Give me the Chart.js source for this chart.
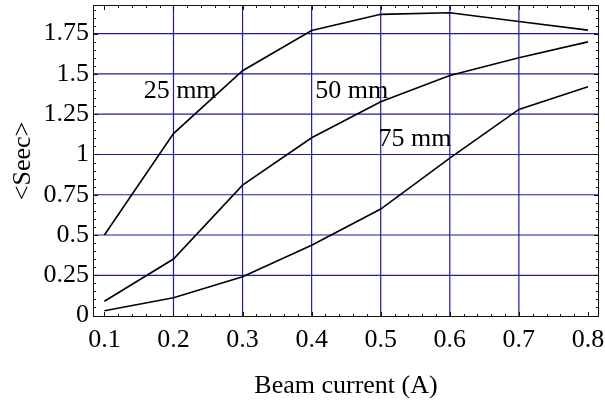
<!DOCTYPE html>
<html>
<head>
<meta charset="utf-8">
<script src="https://cdn.jsdelivr.net/npm/chart.js@4/dist/chart.umd.min.js"></script>
<style>
  html, body { margin: 0; padding: 0; background: #fff; }
  #wrap { width: 605px; height: 400px; }
</style>
</head>
<body>
<div id="wrap"><canvas id="c" width="605" height="400"></canvas></div>
<script>
// ---- data ----
const currents = [0.1, 0.2, 0.3, 0.4, 0.5, 0.6, 0.7, 0.8];
const sec25 = [0.50, 1.13, 1.52, 1.77, 1.87, 1.88, 1.826, 1.772];
const sec50 = [0.089, 0.351, 0.81, 1.104, 1.327, 1.491, 1.60, 1.699];
const sec75 = [0.030, 0.111, 0.241, 0.436, 0.661, 0.977, 1.280, 1.420];
const xTicks = [0.1, 0.2, 0.3, 0.4, 0.5, 0.6, 0.7, 0.8];
const yTicks = [0, 0.25, 0.5, 0.75, 1, 1.25, 1.5, 1.75];
const xGrid = [0.2, 0.3, 0.4, 0.5, 0.6, 0.7];
const yGrid = [0.25, 0.5, 0.75, 1, 1.25, 1.5, 1.75];
const labelText = ['25 mm', '50 mm', '75 mm'];
const labelX = [0.2096, 0.458, 0.5496];
const labelY = [1.393, 1.393, 1.096];

const SERIF = '"Liberation Serif", "Times New Roman", serif';
const GRID = 'rgb(30,30,160)';
const FRAME = '#111';

const gridPlugin = {
  id: 'gridLines',
  beforeDatasetsDraw(chart) {
    const {ctx, chartArea: a, scales: {x, y}} = chart;
    ctx.save();
    ctx.strokeStyle = GRID;
    ctx.lineWidth = 1.2;
    ctx.beginPath();
    xGrid.forEach((v) => {
      const px = x.getPixelForValue(v);
      ctx.moveTo(px, a.top); ctx.lineTo(px, a.bottom);
    });
    yGrid.forEach((v) => {
      const py = y.getPixelForValue(v);
      ctx.moveTo(a.left, py); ctx.lineTo(a.right, py);
    });
    ctx.stroke();
    ctx.restore();
  }
};

const framePlugin = {
  id: 'frame',
  afterDatasetsDraw(chart) {
    const {ctx, chartArea: a, scales: {x, y}} = chart;
    ctx.save();
    ctx.strokeStyle = FRAME;
    ctx.lineWidth = 1;
    ctx.strokeRect(Math.round(a.left) + 0.5, Math.round(a.top) + 0.5,
                   Math.round(a.right - a.left) - 1, Math.round(a.bottom - a.top) - 1);
    ctx.beginPath();
    for (let i = 0; i <= 40; i++) {
      const v = Math.round((0.08 + i * 0.02) * 1000) / 1000;
      if (v < x.min || v > x.max) continue;
      const major = Math.abs(v * 10 - Math.round(v * 10)) < 1e-6;
      const len = major ? 5 : 3;
      const px = Math.round(x.getPixelForValue(v)) + 0.5;
      ctx.moveTo(px, a.top); ctx.lineTo(px, a.top + len);
      ctx.moveTo(px, a.bottom); ctx.lineTo(px, a.bottom - len);
    }
    for (let i = 0; i <= 40; i++) {
      const v = Math.round(i * 0.05 * 1000) / 1000;
      if (v < y.min || v > y.max) continue;
      const major = Math.abs(v * 4 - Math.round(v * 4)) < 1e-6;
      const len = major ? 5 : 3;
      const py = Math.round(y.getPixelForValue(v)) + 0.5;
      ctx.moveTo(a.left, py); ctx.lineTo(a.left + len, py);
      ctx.moveTo(a.right, py); ctx.lineTo(a.right - len, py);
    }
    ctx.stroke();
    ctx.fillStyle = '#000';
    ctx.font = '26px ' + SERIF;
    ctx.textAlign = 'center';
    ctx.textBaseline = 'middle';
    for (let i = 0; i < labelText.length; i++) {
      ctx.fillText(labelText[i], x.getPixelForValue(labelX[i]), y.getPixelForValue(labelY[i]));
    }
    ctx.restore();
  }
};

const mk = (d) => ({
  data: d.map((v, i) => ({x: currents[i], y: v})),
  borderColor: '#000',
  borderWidth: 1.6,
  pointRadius: 0,
  fill: false,
  tension: 0
});

new Chart(document.getElementById('c'), {
  type: 'line',
  data: { datasets: [mk(sec25), mk(sec50), mk(sec75)] },
  options: {
    responsive: false,
    animation: false,
    devicePixelRatio: 1,
    layout: { padding: { top: 5, right: 6, left: 0, bottom: 0 } },
    plugins: { legend: { display: false }, tooltip: { enabled: false } },
    scales: {
      x: {
        type: 'linear',
        min: 0.0835,
        max: 0.816,
        afterBuildTicks: (s) => { s.ticks = xTicks.map((v) => ({value: v})); },
        afterFit: (s) => { s.height = 83; s.paddingLeft = 0; s.paddingRight = 0; },
        border: { display: false },
        grid: { display: false, drawTicks: false },
        ticks: {
          autoSkip: false,
          maxRotation: 0,
          padding: 8,
          color: '#000',
          font: { family: SERIF, size: 26 },
          callback: (v) => String(v)
        },
        title: {
          display: true,
          text: 'Beam current (A)',
          color: '#000',
          font: { family: SERIF, size: 26, lineHeight: 1 },
          padding: { top: 0, bottom: 1 }
        }
      },
      y: {
        type: 'linear',
        min: -0.009,
        max: 1.928,
        afterBuildTicks: (s) => { s.ticks = yTicks.map((v) => ({value: v})); },
        afterFit: (s) => { s.width = 93; s.paddingTop = 0; s.paddingBottom = 0; },
        border: { display: false },
        grid: { display: false, drawTicks: false },
        ticks: {
          autoSkip: false,
          padding: 4,
          color: '#000',
          font: { family: SERIF, size: 26 },
          callback: (v) => String(v)
        },
        title: {
          display: true,
          text: '<Seec>',
          color: '#000',
          font: { family: SERIF, size: 26, lineHeight: 1 },
          padding: { top: 10, bottom: 0 }
        }
      }
    }
  },
  plugins: [gridPlugin, framePlugin]
});
</script>
</body>
</html>
